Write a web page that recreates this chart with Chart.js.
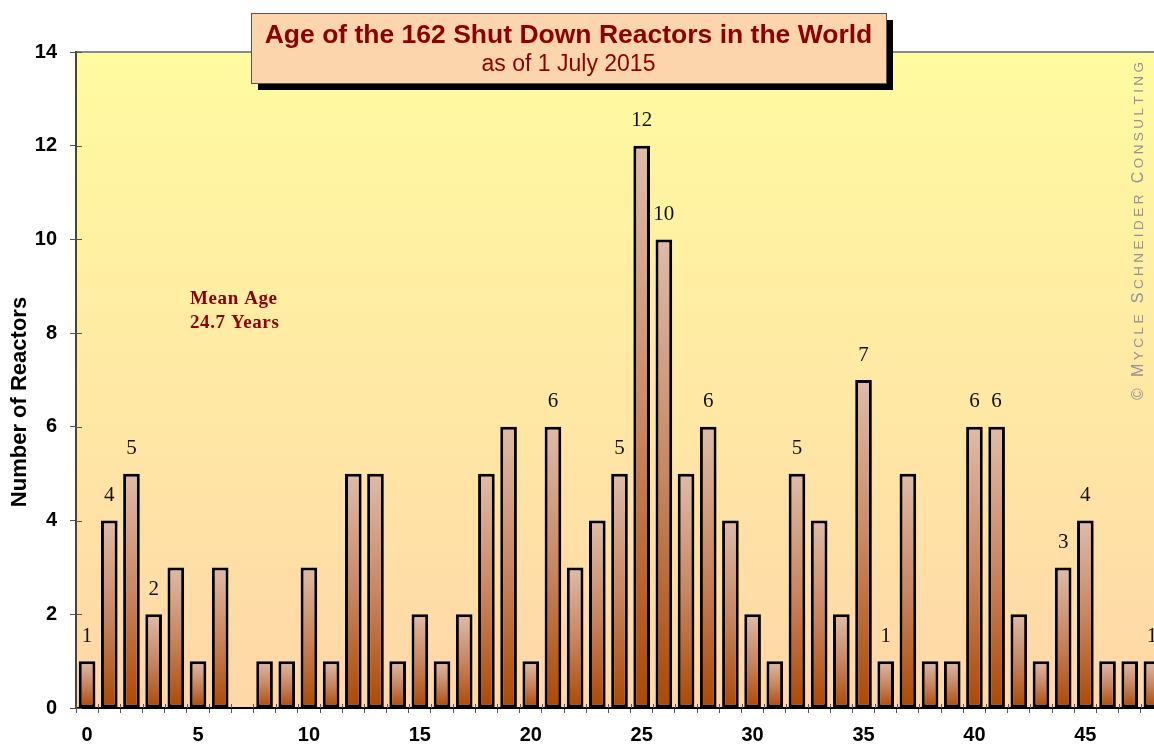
<!DOCTYPE html>
<html><head><meta charset="utf-8">
<style>
html,body{margin:0;padding:0;overflow:hidden;background:#fff;width:1154px;height:744px;}
#wrap{position:relative;width:1163px;height:744px;}
canvas{display:block;}
</style>
<script src="https://cdn.jsdelivr.net/npm/chart.js@4.4.0/dist/chart.umd.min.js"></script>
</head><body><div id="wrap"><canvas id="c" width="1163" height="744"></canvas></div>
<script>
// ---- data ----
const ages = ['0','1','2','3','4','5','6','7','8','9','10','11','12','13','14','15','16','17','18','19','20','21','22','23','24','25','26','27','28','29','30','31','32','33','34','35','36','37','38','39','40','41','42','43','44','45','46','47','48'];
const reactorCounts = [1,4,5,2,3,1,3,0,1,1,3,1,5,5,1,2,1,2,5,6,1,6,3,4,5,12,10,5,6,4,2,1,5,4,2,7,1,5,1,1,6,6,2,1,3,4,1,1,1];
const labeledAges = [0,1,2,3,21,24,25,26,28,32,35,36,40,41,44,45,48];
const yTicks = [0,2,4,6,8,10,12,14];
const titleText = 'Age of the 162 Shut Down Reactors in the World';
const subtitleText = 'as of 1 July 2015';
const meanAgeLines = ['Mean Age','24.7 Years'];
const axisTitle = 'Number of Reactors';
const watermark = '\u00A9 Mycle Schneider Consulting';

function barFill(c){
  const chart = c.chart; const y = chart.scales && chart.scales.y;
  if (!y || c.type !== 'data' || !c.raw) return '#c8845c';
  const top = y.getPixelForValue(c.raw), base = y.getPixelForValue(0);
  if (!isFinite(top) || !isFinite(base) || top === base) return '#c8845c';
  const g = chart.ctx.createLinearGradient(0, top, 0, base);
  g.addColorStop(0, '#dfbba9');
  g.addColorStop(0.5, '#c98661');
  g.addColorStop(1, '#ad4803');
  return g;
}

function drawSmallCaps(ctx, text, total, big, small){
  const fam = '"Liberation Sans", Arial, sans-serif';
  const parts = [...text].map(ch => {
    const lower = ch !== ch.toUpperCase();
    return {ch: lower ? ch.toUpperCase() : ch, font: (lower ? small : big) + 'px ' + fam};
  });
  let w = 0;
  parts.forEach(p => { ctx.font = p.font; p.w = ctx.measureText(p.ch).width; w += p.w; });
  const gap = (total - w) / (parts.length - 1);
  let xx = -total / 2;
  ctx.textAlign = 'left'; ctx.textBaseline = 'alphabetic';
  parts.forEach(p => { ctx.font = p.font; ctx.fillText(p.ch, xx, 0); xx += p.w + gap; });
}

const deco = {
  id: 'deco',
  beforeDraw(chart){
    const {ctx, chartArea:a} = chart;
    ctx.save();
    const g = ctx.createLinearGradient(0, a.top, 0, a.bottom);
    g.addColorStop(0, '#fffba0');
    g.addColorStop(1, '#ffd7a8');
    ctx.fillStyle = g;
    ctx.fillRect(a.left, a.top, a.right - a.left, a.bottom - a.top);
    ctx.strokeStyle = '#8a8a8a'; ctx.lineWidth = 2;
    ctx.beginPath(); ctx.moveTo(a.left, a.top); ctx.lineTo(a.right, a.top); ctx.stroke();
    ctx.restore();
  },
  afterDraw(chart){
    const {ctx, chartArea:a, scales:{x, y}} = chart;
    ctx.save();
    ctx.strokeStyle = '#555'; ctx.lineWidth = 1;
    const sp = x.getPixelForValue(1) - x.getPixelForValue(0);
    for (let i = 0; i <= ages.length; i++){
      const px = Math.round(x.getPixelForValue(i) - sp/2) + 0.5;
      ctx.beginPath(); ctx.moveTo(px, a.bottom - 4); ctx.lineTo(px, a.bottom); ctx.stroke();
    }
    yTicks.forEach(v => {
      const py = Math.round(y.getPixelForValue(v)) + 0.5;
      ctx.beginPath(); ctx.moveTo(a.left, py); ctx.lineTo(a.left + 6, py); ctx.stroke();
    });
    const meta = chart.getDatasetMeta(0);
    ctx.fillStyle = '#111';
    ctx.font = '21px "Liberation Serif", serif';
    ctx.textAlign = 'center'; ctx.textBaseline = 'middle';
    labeledAges.forEach(i => {
      const el = meta.data[i];
      ctx.fillText(String(reactorCounts[i]), el.x, el.y - 25);
    });
    ctx.fillStyle = '#8b0000';
    ctx.font = 'bold 19px "Liberation Serif", serif';
    try { ctx.letterSpacing = '0.6px'; } catch(e){}
    ctx.textAlign = 'left';
    ctx.fillText(meanAgeLines[0], 190, 299);
    ctx.fillText(meanAgeLines[1], 190, 323);
    try { ctx.letterSpacing = '0px'; } catch(e){}
    ctx.save();
    ctx.translate(20, 402); ctx.rotate(-Math.PI/2);
    ctx.fillStyle = '#000'; ctx.font = 'bold 22px "Liberation Sans", Arial, sans-serif';
    ctx.textAlign = 'center'; ctx.fillText(axisTitle, 0, 0);
    ctx.restore();
    ctx.save();
    ctx.translate(1143, 231); ctx.rotate(-Math.PI/2);
    ctx.fillStyle = '#939393';
    drawSmallCaps(ctx, watermark, 338, 16, 13.5);
    ctx.restore();
    ctx.fillStyle = '#000';
    ctx.fillRect(258, 20, 635, 70);
    ctx.fillStyle = '#fdd5ac';
    ctx.fillRect(251, 13, 635, 70);
    ctx.strokeStyle = '#555'; ctx.lineWidth = 1;
    ctx.strokeRect(251.5, 13.5, 635, 70);
    ctx.fillStyle = '#8b0000'; ctx.textAlign = 'center'; ctx.textBaseline = 'middle';
    ctx.font = 'bold 26.5px "Liberation Sans", Arial, sans-serif';
    ctx.fillText(titleText, 568.5, 36);
    ctx.font = '23px "Liberation Sans", Arial, sans-serif';
    ctx.fillText(subtitleText, 568.5, 65);
    ctx.restore();
  }
};

const tickFont = {family: '"Liberation Sans", Arial, sans-serif', weight: 'bold', size: 20};

new Chart(document.getElementById('c'), {
  type: 'bar',
  data: {
    labels: ages,
    datasets: [{
      data: reactorCounts,
      backgroundColor: barFill,
      borderColor: '#000',
      borderWidth: c => c.raw ? 3 : 0,
      borderSkipped: false,
      barPercentage: 0.75,
      categoryPercentage: 1
    }]
  },
  options: {
    responsive: false, animation: false, devicePixelRatio: 1,
    layout: {padding: {top: 52, left: 0, right: 0, bottom: 0}},
    plugins: {legend: {display: false}, tooltip: {enabled: false}},
    scales: {
      x: {
        grid: {offset: true, drawOnChartArea: false, tickLength: 5, color: '#555', lineWidth: 1},
        border: {color: '#000', width: 2},
        ticks: {autoSkip: false, maxRotation: 0, minRotation: 0, padding: 10, font: tickFont, color: '#000',
          callback: (v, i) => (i % 5 === 0 ? ages[i] : '')},
        afterFit: s => { s.height = 36; }
      },
      y: {
        min: 0, max: 14,
        afterBuildTicks: s => { s.ticks = yTicks.map(v => ({value: v})); },
        grid: {drawOnChartArea: false, tickLength: 6, color: '#555', lineWidth: 1},
        border: {color: '#444', width: 2},
        ticks: {padding: 13, font: tickFont, color: '#000'},
        afterFit: s => { s.width = 76; }
      }
    }
  },
  plugins: [deco]
});
</script>
</body></html>
